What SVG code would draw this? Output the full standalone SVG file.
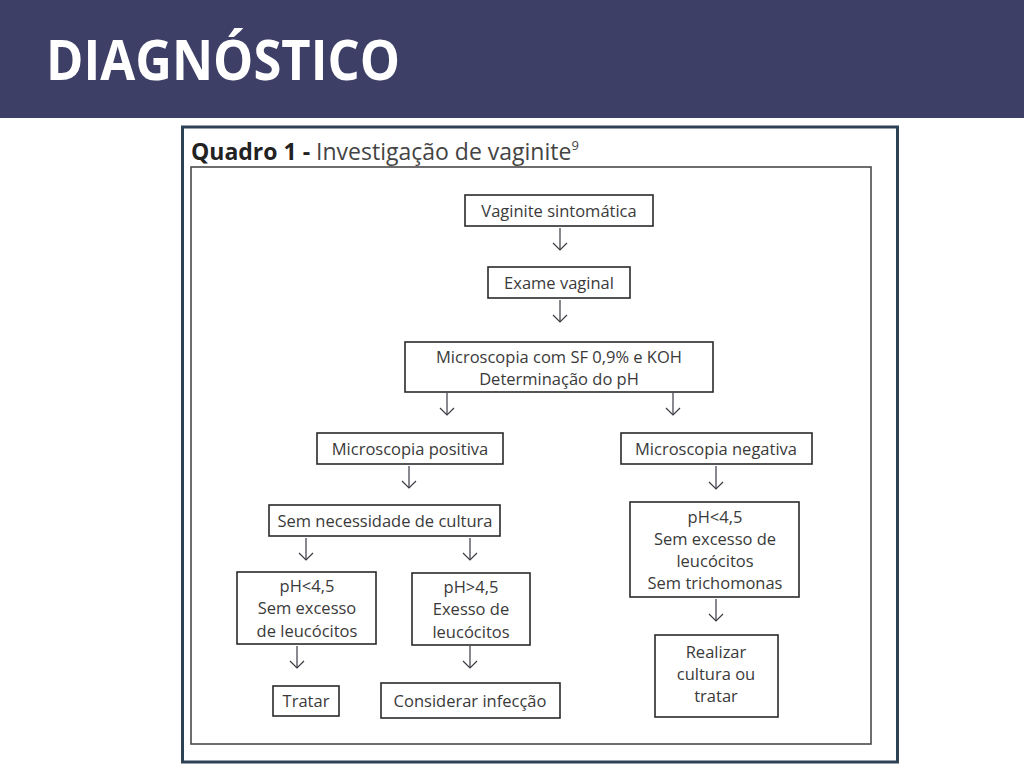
<svg xmlns="http://www.w3.org/2000/svg" width="1024" height="768" viewBox="0 0 1024 768">
<defs>
<style>
.box{fill:#fff;stroke:#2a2a2a;stroke-width:1.6}
.t{font-family:"Open Sans","Noto Sans","DejaVu Sans",sans-serif;font-size:16.5px;fill:#3a3a3a;text-anchor:middle}
.con{fill:none;stroke:#3a3a44;stroke-width:1.2;marker-end:url(#ah)}
</style>
<marker id="ah" viewBox="-8 -8 10 16" refX="0" refY="0" markerWidth="10" markerHeight="16" markerUnits="userSpaceOnUse" orient="auto">
<path d="M-7,-7 L0,0 L-7,7" fill="none" stroke="#3a3a44" stroke-width="1.2"/>
</marker>
</defs>
<rect x="0" y="0" width="1024" height="768" fill="#fff"/>
<rect x="0" y="0" width="1024" height="118" fill="#3d3f66"/>
<text x="46" y="80" font-family="'Open Sans','DejaVu Sans',sans-serif" font-weight="bold" font-size="55" fill="#fff" textLength="354" lengthAdjust="spacingAndGlyphs">DIAGNÓSTICO</text>
<rect x="182.5" y="127" width="715" height="635" fill="#fff" stroke="#2e4256" stroke-width="3"/>
<text x="191" y="160" font-family="'Open Sans','Noto Sans',sans-serif" font-size="23" fill="#444"><tspan font-weight="bold" fill="#222">Quadro 1 -</tspan> Investigação de vaginite<tspan font-size="13" dy="-10">9</tspan></text>
<rect x="191" y="167" width="680" height="577" fill="#fff" stroke="#4a4a4a" stroke-width="1.6"/>
<g id="connectors">
<path class="con" d="M560,228 V250"/>
<path class="con" d="M560,300 V322"/>
<path class="con" d="M447,393 V415"/>
<path class="con" d="M673,393 V415"/>
<path class="con" d="M409,466 V488"/>
<path class="con" d="M716,466 V489"/>
<path class="con" d="M306,538 V560"/>
<path class="con" d="M470,538 V560"/>
<path class="con" d="M716,599 V621"/>
<path class="con" d="M297,646 V668"/>
<path class="con" d="M470,646 V668"/>
</g>
<g id="n1"><rect class="box" x="465" y="195" width="188" height="31"/><text class="t" x="559" y="216.5">Vaginite sintomática</text></g>
<g id="n2"><rect class="box" x="488" y="267" width="142" height="31"/><text class="t" x="559" y="288.5">Exame vaginal</text></g>
<g id="n3"><rect class="box" x="405" y="342" width="308" height="50"/><text class="t" x="559" y="362.5">Microscopia com SF 0,9% e KOH</text><text class="t" x="559" y="384.5">Determinação do pH</text></g>
<g id="n4"><rect class="box" x="317" y="433" width="186" height="31"/><text class="t" x="410" y="454.5">Microscopia positiva</text></g>
<g id="n5"><rect class="box" x="621" y="433" width="191" height="31"/><text class="t" x="716" y="454.5">Microscopia negativa</text></g>
<g id="n6"><rect class="box" x="269" y="505" width="231" height="31"/><text class="t" x="385" y="526.5">Sem necessidade de cultura</text></g>
<g id="n7"><rect class="box" x="630" y="502" width="169" height="95"/><text class="t" x="715" y="522.5">pH&lt;4,5</text><text class="t" x="715" y="544.5">Sem excesso de</text><text class="t" x="715" y="566.5">leucócitos</text><text class="t" x="715" y="588.5">Sem trichomonas</text></g>
<g id="n8"><rect class="box" x="237" y="572" width="139" height="72"/><text class="t" x="307" y="591.5">pH&lt;4,5</text><text class="t" x="307" y="613.5">Sem excesso</text><text class="t" x="307" y="636.5">de leucócitos</text></g>
<g id="n9"><rect class="box" x="412" y="573" width="118" height="72"/><text class="t" x="471" y="592.5">pH&gt;4,5</text><text class="t" x="471" y="614.5">Exesso de</text><text class="t" x="471" y="637.5">leucócitos</text></g>
<g id="n10"><rect class="box" x="655" y="635" width="123" height="82"/><text class="t" x="716" y="657.5">Realizar</text><text class="t" x="716" y="679.5">cultura ou</text><text class="t" x="716" y="701.5">tratar</text></g>
<g id="n11"><rect class="box" x="273" y="686" width="66" height="30"/><text class="t" x="306" y="707">Tratar</text></g>
<g id="n12"><rect class="box" x="381" y="683" width="179" height="35"/><text class="t" x="470" y="706.5">Considerar infecção</text></g>
</svg>
